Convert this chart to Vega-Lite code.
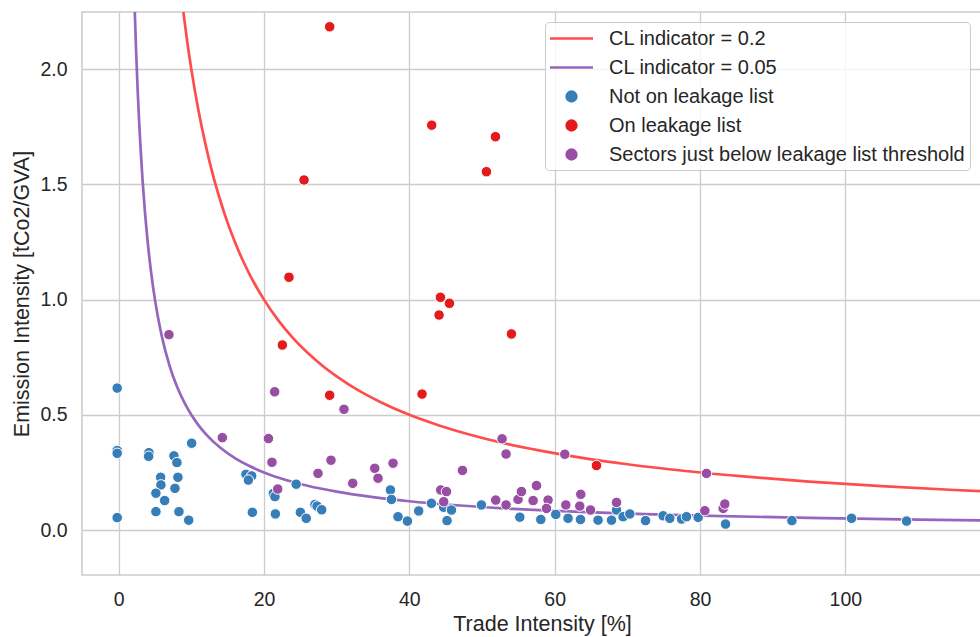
{
  "$schema": "https://vega.github.io/schema/vega-lite/v6.json",
  "width": 920,
  "height": 563,
  "autosize": {"type": "none"},
  "padding": {"left": 82, "top": 12, "right": -22, "bottom": 62},
  "background": "white",
  "config": {
    "font": "Liberation Sans",
    "view": {"stroke": "#cccccc", "strokeWidth": 1.6},
    "axis": {
      "grid": true, "gridColor": "#cccccc", "gridWidth": 1.3,
      "domain": false, "ticks": false,
      "labelFontSize": 19.5, "labelColor": "#262626", "labelPadding": 15,
      "titleFontSize": 21.5, "titleFontWeight": "normal", "titleColor": "#262626"
    }
  },
  "datasets": {
    "curves": [
      {"series": "CL indicator = 0.2", "x": 8.8, "y": 2.273},
      {"series": "CL indicator = 0.2", "x": 9.5, "y": 2.105},
      {"series": "CL indicator = 0.2", "x": 10, "y": 2.0},
      {"series": "CL indicator = 0.2", "x": 11, "y": 1.818},
      {"series": "CL indicator = 0.2", "x": 12, "y": 1.667},
      {"series": "CL indicator = 0.2", "x": 13, "y": 1.538},
      {"series": "CL indicator = 0.2", "x": 14, "y": 1.429},
      {"series": "CL indicator = 0.2", "x": 15, "y": 1.333},
      {"series": "CL indicator = 0.2", "x": 16, "y": 1.25},
      {"series": "CL indicator = 0.2", "x": 17, "y": 1.176},
      {"series": "CL indicator = 0.2", "x": 18, "y": 1.111},
      {"series": "CL indicator = 0.2", "x": 20, "y": 1.0},
      {"series": "CL indicator = 0.2", "x": 22, "y": 0.909},
      {"series": "CL indicator = 0.2", "x": 24, "y": 0.833},
      {"series": "CL indicator = 0.2", "x": 26, "y": 0.769},
      {"series": "CL indicator = 0.2", "x": 28, "y": 0.714},
      {"series": "CL indicator = 0.2", "x": 30, "y": 0.667},
      {"series": "CL indicator = 0.2", "x": 33, "y": 0.606},
      {"series": "CL indicator = 0.2", "x": 36, "y": 0.556},
      {"series": "CL indicator = 0.2", "x": 40, "y": 0.5},
      {"series": "CL indicator = 0.2", "x": 44, "y": 0.455},
      {"series": "CL indicator = 0.2", "x": 48, "y": 0.417},
      {"series": "CL indicator = 0.2", "x": 53, "y": 0.377},
      {"series": "CL indicator = 0.2", "x": 58, "y": 0.345},
      {"series": "CL indicator = 0.2", "x": 64, "y": 0.3125},
      {"series": "CL indicator = 0.2", "x": 70, "y": 0.2857},
      {"series": "CL indicator = 0.2", "x": 78, "y": 0.2564},
      {"series": "CL indicator = 0.2", "x": 86, "y": 0.2326},
      {"series": "CL indicator = 0.2", "x": 95, "y": 0.2105},
      {"series": "CL indicator = 0.2", "x": 105, "y": 0.1905},
      {"series": "CL indicator = 0.2", "x": 115, "y": 0.1739},
      {"series": "CL indicator = 0.2", "x": 122, "y": 0.1639},
      {"series": "CL indicator = 0.05", "x": 2.2, "y": 2.273},
      {"series": "CL indicator = 0.05", "x": 2.4, "y": 2.083},
      {"series": "CL indicator = 0.05", "x": 2.6, "y": 1.923},
      {"series": "CL indicator = 0.05", "x": 2.8, "y": 1.786},
      {"series": "CL indicator = 0.05", "x": 3.0, "y": 1.667},
      {"series": "CL indicator = 0.05", "x": 3.3, "y": 1.515},
      {"series": "CL indicator = 0.05", "x": 3.6, "y": 1.389},
      {"series": "CL indicator = 0.05", "x": 4.0, "y": 1.25},
      {"series": "CL indicator = 0.05", "x": 4.5, "y": 1.111},
      {"series": "CL indicator = 0.05", "x": 5, "y": 1.0},
      {"series": "CL indicator = 0.05", "x": 5.5, "y": 0.909},
      {"series": "CL indicator = 0.05", "x": 6, "y": 0.833},
      {"series": "CL indicator = 0.05", "x": 7, "y": 0.714},
      {"series": "CL indicator = 0.05", "x": 8, "y": 0.625},
      {"series": "CL indicator = 0.05", "x": 9, "y": 0.556},
      {"series": "CL indicator = 0.05", "x": 10, "y": 0.5},
      {"series": "CL indicator = 0.05", "x": 11, "y": 0.4545},
      {"series": "CL indicator = 0.05", "x": 12, "y": 0.4167},
      {"series": "CL indicator = 0.05", "x": 14, "y": 0.3571},
      {"series": "CL indicator = 0.05", "x": 16, "y": 0.3125},
      {"series": "CL indicator = 0.05", "x": 18, "y": 0.2778},
      {"series": "CL indicator = 0.05", "x": 20, "y": 0.25},
      {"series": "CL indicator = 0.05", "x": 23, "y": 0.2174},
      {"series": "CL indicator = 0.05", "x": 26, "y": 0.1923},
      {"series": "CL indicator = 0.05", "x": 30, "y": 0.1667},
      {"series": "CL indicator = 0.05", "x": 35, "y": 0.1429},
      {"series": "CL indicator = 0.05", "x": 40, "y": 0.125},
      {"series": "CL indicator = 0.05", "x": 46, "y": 0.1087},
      {"series": "CL indicator = 0.05", "x": 53, "y": 0.0943},
      {"series": "CL indicator = 0.05", "x": 60, "y": 0.0833},
      {"series": "CL indicator = 0.05", "x": 70, "y": 0.0714},
      {"series": "CL indicator = 0.05", "x": 80, "y": 0.0625},
      {"series": "CL indicator = 0.05", "x": 95, "y": 0.0526},
      {"series": "CL indicator = 0.05", "x": 110, "y": 0.0455},
      {"series": "CL indicator = 0.05", "x": 122, "y": 0.041}
    ],
    "sectors": [
      {"series": "Not on leakage list", "x": -0.2, "y": 0.616},
      {"series": "Not on leakage list", "x": -0.2, "y": 0.345},
      {"series": "Not on leakage list", "x": -0.2, "y": 0.333},
      {"series": "Not on leakage list", "x": -0.2, "y": 0.054},
      {"series": "Not on leakage list", "x": 4.17, "y": 0.336},
      {"series": "Not on leakage list", "x": 4.13, "y": 0.32},
      {"series": "Not on leakage list", "x": 10.05, "y": 0.377},
      {"series": "Not on leakage list", "x": 7.61, "y": 0.322},
      {"series": "Not on leakage list", "x": 8.02, "y": 0.293},
      {"series": "Not on leakage list", "x": 5.78, "y": 0.229},
      {"series": "Not on leakage list", "x": 5.82, "y": 0.196},
      {"series": "Not on leakage list", "x": 8.16, "y": 0.229},
      {"series": "Not on leakage list", "x": 7.75, "y": 0.181},
      {"series": "Not on leakage list", "x": 5.13, "y": 0.16},
      {"series": "Not on leakage list", "x": 6.33, "y": 0.128},
      {"series": "Not on leakage list", "x": 5.13, "y": 0.08},
      {"series": "Not on leakage list", "x": 8.3, "y": 0.08},
      {"series": "Not on leakage list", "x": 9.64, "y": 0.043},
      {"series": "Not on leakage list", "x": 17.52, "y": 0.242},
      {"series": "Not on leakage list", "x": 18.31, "y": 0.235},
      {"series": "Not on leakage list", "x": 17.85, "y": 0.217},
      {"series": "Not on leakage list", "x": 18.4, "y": 0.077},
      {"series": "Not on leakage list", "x": 21.29, "y": 0.159},
      {"series": "Not on leakage list", "x": 21.51, "y": 0.145},
      {"series": "Not on leakage list", "x": 21.57, "y": 0.07},
      {"series": "Not on leakage list", "x": 24.43, "y": 0.199},
      {"series": "Not on leakage list", "x": 25.01, "y": 0.077},
      {"series": "Not on leakage list", "x": 25.81, "y": 0.051},
      {"series": "Not on leakage list", "x": 27.02, "y": 0.111},
      {"series": "Not on leakage list", "x": 27.3, "y": 0.104},
      {"series": "Not on leakage list", "x": 27.94, "y": 0.088},
      {"series": "Not on leakage list", "x": 37.4, "y": 0.174},
      {"series": "Not on leakage list", "x": 37.54, "y": 0.133},
      {"series": "Not on leakage list", "x": 38.44, "y": 0.058},
      {"series": "Not on leakage list", "x": 39.74, "y": 0.039},
      {"series": "Not on leakage list", "x": 41.29, "y": 0.083},
      {"series": "Not on leakage list", "x": 43.04, "y": 0.116},
      {"series": "Not on leakage list", "x": 44.73, "y": 0.099},
      {"series": "Not on leakage list", "x": 45.8, "y": 0.087},
      {"series": "Not on leakage list", "x": 45.19, "y": 0.041},
      {"series": "Not on leakage list", "x": 49.92, "y": 0.109},
      {"series": "Not on leakage list", "x": 55.2, "y": 0.056},
      {"series": "Not on leakage list", "x": 58.09, "y": 0.046},
      {"series": "Not on leakage list", "x": 60.15, "y": 0.068},
      {"series": "Not on leakage list", "x": 61.84, "y": 0.051},
      {"series": "Not on leakage list", "x": 63.55, "y": 0.046},
      {"series": "Not on leakage list", "x": 65.97, "y": 0.043},
      {"series": "Not on leakage list", "x": 67.82, "y": 0.043},
      {"series": "Not on leakage list", "x": 68.51, "y": 0.087},
      {"series": "Not on leakage list", "x": 69.41, "y": 0.058},
      {"series": "Not on leakage list", "x": 70.34, "y": 0.07},
      {"series": "Not on leakage list", "x": 72.5, "y": 0.041},
      {"series": "Not on leakage list", "x": 74.92, "y": 0.062},
      {"series": "Not on leakage list", "x": 75.84, "y": 0.051},
      {"series": "Not on leakage list", "x": 77.45, "y": 0.048},
      {"series": "Not on leakage list", "x": 78.14, "y": 0.058},
      {"series": "Not on leakage list", "x": 79.74, "y": 0.055},
      {"series": "Not on leakage list", "x": 83.51, "y": 0.026},
      {"series": "Not on leakage list", "x": 92.64, "y": 0.041},
      {"series": "Not on leakage list", "x": 100.85, "y": 0.051},
      {"series": "Not on leakage list", "x": 108.42, "y": 0.039},
      {"series": "On leakage list", "x": 29.04, "y": 2.184},
      {"series": "On leakage list", "x": 43.08, "y": 1.757},
      {"series": "On leakage list", "x": 51.85, "y": 1.707},
      {"series": "On leakage list", "x": 50.61, "y": 1.555},
      {"series": "On leakage list", "x": 25.51, "y": 1.519},
      {"series": "On leakage list", "x": 23.44, "y": 1.097},
      {"series": "On leakage list", "x": 44.28, "y": 1.01},
      {"series": "On leakage list", "x": 45.52, "y": 0.984},
      {"series": "On leakage list", "x": 44.09, "y": 0.933},
      {"series": "On leakage list", "x": 54.05, "y": 0.851},
      {"series": "On leakage list", "x": 22.53, "y": 0.803},
      {"series": "On leakage list", "x": 29.04, "y": 0.585},
      {"series": "On leakage list", "x": 41.75, "y": 0.59},
      {"series": "On leakage list", "x": 65.75, "y": 0.28},
      {"series": "Sectors just below leakage list threshold", "x": 6.92, "y": 0.848},
      {"series": "Sectors just below leakage list threshold", "x": 21.47, "y": 0.6},
      {"series": "Sectors just below leakage list threshold", "x": 31.01, "y": 0.524},
      {"series": "Sectors just below leakage list threshold", "x": 14.27, "y": 0.401},
      {"series": "Sectors just below leakage list threshold", "x": 20.61, "y": 0.397},
      {"series": "Sectors just below leakage list threshold", "x": 21.1, "y": 0.294},
      {"series": "Sectors just below leakage list threshold", "x": 29.22, "y": 0.303},
      {"series": "Sectors just below leakage list threshold", "x": 27.43, "y": 0.246},
      {"series": "Sectors just below leakage list threshold", "x": 32.21, "y": 0.203},
      {"series": "Sectors just below leakage list threshold", "x": 35.24, "y": 0.268},
      {"series": "Sectors just below leakage list threshold", "x": 35.69, "y": 0.225},
      {"series": "Sectors just below leakage list threshold", "x": 21.89, "y": 0.178},
      {"series": "Sectors just below leakage list threshold", "x": 37.76, "y": 0.29},
      {"series": "Sectors just below leakage list threshold", "x": 47.31, "y": 0.259},
      {"series": "Sectors just below leakage list threshold", "x": 52.76, "y": 0.396},
      {"series": "Sectors just below leakage list threshold", "x": 53.31, "y": 0.33},
      {"series": "Sectors just below leakage list threshold", "x": 44.32, "y": 0.174},
      {"series": "Sectors just below leakage list threshold", "x": 45.11, "y": 0.167},
      {"series": "Sectors just below leakage list threshold", "x": 44.73, "y": 0.123},
      {"series": "Sectors just below leakage list threshold", "x": 51.89, "y": 0.13},
      {"series": "Sectors just below leakage list threshold", "x": 53.31, "y": 0.109},
      {"series": "Sectors just below leakage list threshold", "x": 54.96, "y": 0.133},
      {"series": "Sectors just below leakage list threshold", "x": 55.43, "y": 0.167},
      {"series": "Sectors just below leakage list threshold", "x": 57.5, "y": 0.193},
      {"series": "Sectors just below leakage list threshold", "x": 57.03, "y": 0.128},
      {"series": "Sectors just below leakage list threshold", "x": 59.09, "y": 0.13},
      {"series": "Sectors just below leakage list threshold", "x": 58.87, "y": 0.094},
      {"series": "Sectors just below leakage list threshold", "x": 61.39, "y": 0.329},
      {"series": "Sectors just below leakage list threshold", "x": 63.59, "y": 0.155},
      {"series": "Sectors just below leakage list threshold", "x": 61.53, "y": 0.109},
      {"series": "Sectors just below leakage list threshold", "x": 63.45, "y": 0.104},
      {"series": "Sectors just below leakage list threshold", "x": 64.93, "y": 0.087},
      {"series": "Sectors just below leakage list threshold", "x": 68.51, "y": 0.12},
      {"series": "Sectors just below leakage list threshold", "x": 80.66, "y": 0.084},
      {"series": "Sectors just below leakage list threshold", "x": 80.89, "y": 0.246},
      {"series": "Sectors just below leakage list threshold", "x": 83.18, "y": 0.094},
      {"series": "Sectors just below leakage list threshold", "x": 83.41, "y": 0.113}
    ]
  },
  "layer": [
    {
      "data": {"name": "curves"},
      "mark": {"type": "line", "interpolate": "monotone", "strokeWidth": 2.7, "clip": true},
      "encoding": {
        "x": {
          "field": "x", "type": "quantitative",
          "scale": {"domain": [-5.04, 121.55], "nice": false, "zero": false},
          "axis": {"title": "Trade Intensity [%]", "values": [0, 20, 40, 60, 80, 100], "titlePadding": 5}
        },
        "y": {
          "field": "y", "type": "quantitative",
          "scale": {"domain": [-0.195, 2.248], "nice": false, "zero": false},
          "axis": {"title": "Emission Intensity [tCo2/GVA]", "values": [0, 0.5, 1, 1.5, 2], "format": ".1f", "titlePadding": 6}
        },
        "color": {
          "field": "series", "type": "nominal",
          "scale": {
            "domain": ["CL indicator = 0.2", "CL indicator = 0.05", "Not on leakage list", "On leakage list", "Sectors just below leakage list threshold"],
            "range": ["#ff4d4d", "#9467bd", "#377eb8", "#e41a1c", "#984ea3"]
          },
          "legend": {
            "title": null,
            "orient": "none",
            "legendX": 463,
            "legendY": 10,
            "columns": 1,
            "padding": 5,
            "fillColor": "rgba(255,255,255,0.8)",
            "strokeColor": "#cccccc",
            "cornerRadius": 4,
            "labelFontSize": 20,
            "labelColor": "#262626",
            "labelFont": "Liberation Sans",
            "labelLimit": 0,
            "labelOffset": 26,
            "symbolOffset": 10,
            "rowPadding": 7,
            "symbolType": "circle",
            "symbolSize": 400,
            "symbolStrokeWidth": 2.7,
            "encode": {
              "symbols": {
                "update": {
                  "shape": {"signal": "indexof(datum.value, 'CL') === 0 ? 'M-2.15,0L2.15,0' : 'M-0.48,0 A0.48,0.48 0 1,0 0.48,0 A0.48,0.48 0 1,0 -0.48,0 Z'"},
                  "fill": {"signal": "indexof(datum.value, 'CL') === 0 ? 'transparent' : scale('color', datum.value)"},
                  "stroke": {"signal": "indexof(datum.value, 'CL') === 0 ? scale('color', datum.value) : 'transparent'"},
                  "opacity": {"value": 1}
                }
              }
            }
          }
        }
      }
    },
    {
      "data": {"name": "sectors"},
      "mark": {"type": "point", "filled": true, "size": 110, "stroke": "white", "strokeWidth": 1, "opacity": 1, "clip": true},
      "encoding": {
        "x": {"field": "x", "type": "quantitative"},
        "y": {"field": "y", "type": "quantitative"},
        "color": {"field": "series", "type": "nominal"}
      }
    }
  ]
}
